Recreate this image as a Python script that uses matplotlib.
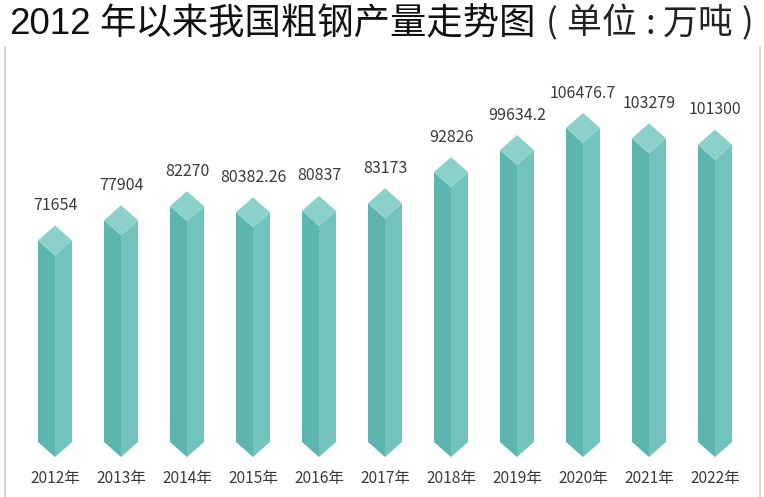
import matplotlib
matplotlib.use("Agg")
import matplotlib.pyplot as plt
from matplotlib.patches import Polygon
from matplotlib.lines import Line2D

years = ["2012年", "2013年", "2014年", "2015年", "2016年", "2017年",
         "2018年", "2019年", "2020年", "2021年", "2022年"]
values = [71654, 77904, 82270, 80382.26, 80837, 83173,
          92826, 99634.2, 106476.7, 103279, 101300]
labels = ["71654", "77904", "82270", "80382.26", "80837", "83173",
          "92826", "99634.2", "106476.7", "103279", "101300"]

W, H, DPI = 764, 497, 100
fig = plt.figure(figsize=(W / DPI, H / DPI), dpi=DPI, facecolor="white")
ax = fig.add_axes([0, 0, 1, 1])
ax.set_axis_off()

# scale: 66 px per category, value 0 at 40 px from bottom
px_cat = 66.0
x0_px = 55.0
px_per_unit = 344.0 / 106476.7
base_px = 40.0
ax.set_xlim(-x0_px / px_cat, (W - x0_px) / px_cat)
ax.set_ylim(-base_px / px_per_unit, (H - base_px) / px_per_unit)

half_w = 17.0 / px_cat          # half bar width in category units
dy = 15.0 / px_per_unit          # diamond half height in data units

c_top = "#8bd0c9"
c_left = "#5cb6ae"
c_right = "#72c3bc"

lab_font = ["Noto Sans CJK SC", "DejaVu Sans"]
for i, v in enumerate(values):
    cx = i
    top = [(cx, v), (cx + half_w, v - dy), (cx, v - 2 * dy), (cx - half_w, v - dy)]
    left = [(cx - half_w, v - dy), (cx, v - 2 * dy), (cx, 0), (cx - half_w, dy)]
    right = [(cx, v - 2 * dy), (cx + half_w, v - dy), (cx + half_w, dy), (cx, 0)]
    ax.add_patch(Polygon(left, closed=True, facecolor=c_left, edgecolor="none"))
    ax.add_patch(Polygon(right, closed=True, facecolor=c_right, edgecolor="none"))
    ax.add_patch(Polygon(top, closed=True, facecolor=c_top, edgecolor="none"))
    ax.annotate(labels[i], (cx, v), xytext=(0, 20), textcoords="offset pixels",
                ha="center", va="center", fontsize=11.5, color="#3a3a3a",
                family=lab_font)
    ax.annotate(years[i], (cx, 0), xytext=(0, -21), textcoords="offset pixels",
                ha="center", va="center", fontsize=11.2, color="#3a3a3a",
                family=lab_font)

# frame lines
fig.add_artist(Line2D([4.5 / W, 4.5 / W], [0, 1 - 47 / H], transform=fig.transFigure,
                      color="#cfcfcf", lw=1.2))
fig.add_artist(Line2D([759.5 / W, 759.5 / W], [0, 1 - 47 / H], transform=fig.transFigure,
                      color="#cfcfcf", lw=1.2))

# title
ty = 1 - 24 / H
fig.text(9 / W, ty, "2012", fontsize=26.5, color="#111111",
         family=["Liberation Sans", "Noto Sans CJK SC"], ha="left", va="center")
fig.text(99 / W, ty, "年以来我国粗钢产量走势图", fontsize=26.2, color="#111111",
         family=["Noto Sans CJK SC"], weight="medium", ha="left", va="center")
unit_parts = ["(", "单", "位", ":", "万", "吨", ")"]
unit_x = [552, 584, 619, 650, 680, 715, 747]
for ch, xp in zip(unit_parts, unit_x):
    fig.text(xp / W, ty, ch, fontsize=25, color="#222222",
             family=["Noto Sans CJK SC"], weight="light", ha="center", va="center")

fig.savefig("out.png", dpi=DPI, facecolor="white")
